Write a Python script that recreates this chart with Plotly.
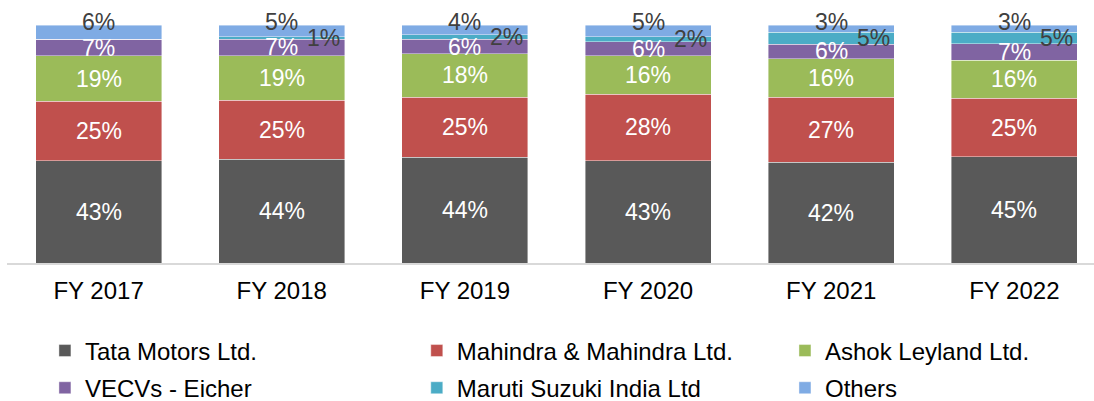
import numpy as np
import plotly.graph_objects as go

years = ["FY 2017", "FY 2018", "FY 2019", "FY 2020", "FY 2021", "FY 2022"]
tata = [43, 44, 44, 43, 42, 45]
mahindra = [25, 25, 25, 28, 27, 25]
ashok = [19, 19, 18, 16, 16, 16]
vecv = [7, 7, 6, 6, 6, 7]
maruti = [0, 1, 2, 2, 5, 5]
others = [6, 5, 4, 5, 3, 3]

series_names = ["Tata Motors Ltd.", "Mahindra & Mahindra Ltd.", "Ashok Leyland Ltd.",
                "VECVs - Eicher", "Maruti Suzuki India Ltd", "Others"]
series_values = [tata, mahindra, ashok, vecv, maruti, others]
colors = ["#595959", "#C0504D", "#9BBB59", "#8064A2", "#4BACC6", "#7FABE4"]
legend_ids = ["legend", "legend2", "legend3", "legend", "legend2", "legend3"]

FONT = "Arial, Liberation Sans, sans-serif"
FS = 23
FS_AX = 24

fig = go.Figure()
for name, vals, col, lg in zip(series_names, series_values, colors, legend_ids):
    fig.add_trace(go.Bar(
        x=years, y=vals, name=name, marker_color=col,
        marker_line=dict(width=0.6, color="rgba(255,255,255,0.7)"),
        legend=lg, legendgroup=name, hoverinfo="skip",
    ))

# label positions from normalised (100%) stacking
arr = np.array(series_values, dtype=float)
totals = arr.sum(axis=0)
pct = arr / totals * 100
tops = np.cumsum(pct, axis=0)
bottoms = tops - pct

annotations = []
for s in range(6):
    for i, yr in enumerate(years):
        v = series_values[s][i]
        if v <= 0:
            continue
        if s < 4:
            annotations.append(dict(x=yr, y=(bottoms[s, i] + tops[s, i]) / 2, text=f"{v}%",
                                    showarrow=False, font=dict(family=FONT, size=FS, color="white")))
        elif s == 4:
            annotations.append(dict(x=yr, y=(bottoms[s, i] + tops[s, i]) / 2, text=f"{v}%",
                                    xshift=42, showarrow=False,
                                    font=dict(family=FONT, size=FS, color="#404040")))
        else:
            annotations.append(dict(x=yr, y=tops[s, i], text=f"{v}%", yshift=3,
                                    showarrow=False,
                                    font=dict(family=FONT, size=FS, color="#404040")))

leg_common = dict(orientation="v", yanchor="top", y=-0.275, xanchor="left",
                  font=dict(family=FONT, size=FS_AX, color="#000000"),
                  bgcolor="rgba(0,0,0,0)", tracegroupgap=3, traceorder="grouped",
                  maxheight=200)

fig.update_layout(
    width=1094, height=401,
    margin=dict(l=7, r=0, t=25, b=138, autoexpand=False),
    barmode="stack", barnorm="percent", bargap=0.312,
    plot_bgcolor="white", paper_bgcolor="white",
    font=dict(family=FONT, size=FS, color="#000000"),
    xaxis=dict(range=[-0.5, 5.435], showline=True, linecolor="#D9D9D9", linewidth=2,
               ticks="outside", ticklen=5, tickcolor="rgba(0,0,0,0)",
               tickfont=dict(family=FONT, size=FS_AX, color="#000000"), showgrid=False),
    yaxis=dict(range=[0, 100], visible=False, showgrid=False),
    legend=dict(x=0.0349, **leg_common),
    legend2=dict(x=0.3770, **leg_common),
    legend3=dict(x=0.7157, **leg_common),
    annotations=annotations,
    showlegend=True,
)

fig.write_html("out.html", config={"displayModeBar": False},
               post_script="document.body.style.margin='0px';")
